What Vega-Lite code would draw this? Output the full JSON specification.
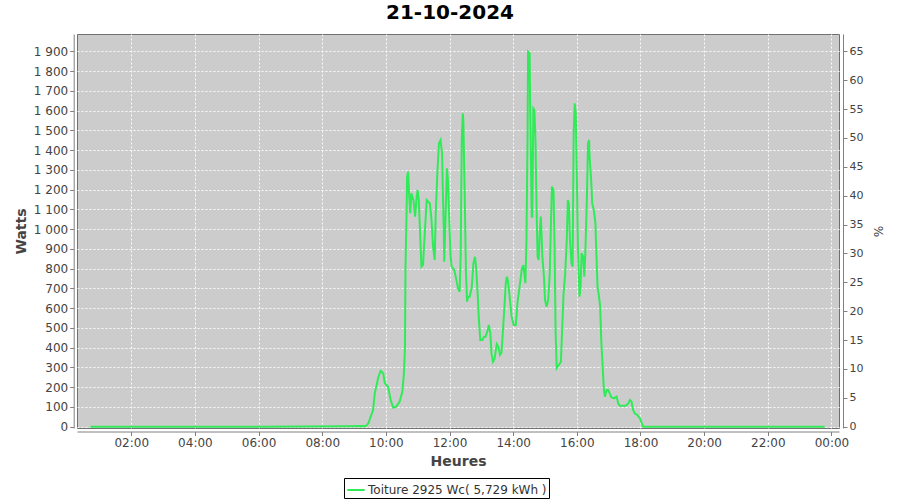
{
  "$schema": "https://vega.github.io/schema/vega-lite/v6.json",
  "width": 762,
  "height": 394,
  "autosize": {"type": "none"},
  "padding": {"left": 77, "top": 34, "right": 61, "bottom": 72},
  "background": "white",
  "title": {"text": "21-10-2024", "fontSize": 20, "font": "DejaVu Sans", "fontWeight": "bold", "color": "#000000", "anchor": "middle", "dx": -8, "offset": 11},
  "config": {
    "view": {"fill": "#CCCCCC", "stroke": "#707070", "strokeWidth": 1},
    "axis": {
      "labelFont": "DejaVu Sans", "labelFontSize": 12, "labelColor": "#444444",
      "titleFont": "DejaVu Sans", "titleFontSize": 14, "titleFontWeight": "bold", "titleColor": "#444444",
      "tickSize": 4, "tickColor": "#808080", "domainColor": "#808080", "labelPadding": 2,
      "gridColor": "#FFFFFF", "gridDash": [2, 2], "gridWidth": 1, "gridOpacity": 0.9
    }
  },
  "layer": [
    {
      "data": {"values": [
        {"t": "2024-10-21T00:43", "w": 0},
        {"t": "2024-10-21T03:00", "w": 0},
        {"t": "2024-10-21T06:00", "w": 0},
        {"t": "2024-10-21T08:50", "w": 2},
        {"t": "2024-10-21T09:15", "w": 3},
        {"t": "2024-10-21T09:22", "w": 2},
        {"t": "2024-10-21T09:27", "w": 17},
        {"t": "2024-10-21T09:36", "w": 85},
        {"t": "2024-10-21T09:39", "w": 169},
        {"t": "2024-10-21T09:46", "w": 253},
        {"t": "2024-10-21T09:50", "w": 282},
        {"t": "2024-10-21T09:55", "w": 270},
        {"t": "2024-10-21T09:58", "w": 220},
        {"t": "2024-10-21T10:04", "w": 202},
        {"t": "2024-10-21T10:09", "w": 135},
        {"t": "2024-10-21T10:14", "w": 96},
        {"t": "2024-10-21T10:20", "w": 103},
        {"t": "2024-10-21T10:26", "w": 127},
        {"t": "2024-10-21T10:31", "w": 177},
        {"t": "2024-10-21T10:34", "w": 270},
        {"t": "2024-10-21T10:36", "w": 405},
        {"t": "2024-10-21T10:37", "w": 810},
        {"t": "2024-10-21T10:39", "w": 1080},
        {"t": "2024-10-21T10:40", "w": 1265},
        {"t": "2024-10-21T10:42", "w": 1290},
        {"t": "2024-10-21T10:44", "w": 1164},
        {"t": "2024-10-21T10:46", "w": 1080},
        {"t": "2024-10-21T10:48", "w": 1181},
        {"t": "2024-10-21T10:52", "w": 1147},
        {"t": "2024-10-21T10:55", "w": 1063},
        {"t": "2024-10-21T10:58", "w": 1164},
        {"t": "2024-10-21T11:00", "w": 1198},
        {"t": "2024-10-21T11:02", "w": 1147},
        {"t": "2024-10-21T11:05", "w": 945},
        {"t": "2024-10-21T11:07", "w": 810},
        {"t": "2024-10-21T11:10", "w": 818},
        {"t": "2024-10-21T11:14", "w": 1012},
        {"t": "2024-10-21T11:17", "w": 1147},
        {"t": "2024-10-21T11:23", "w": 1130},
        {"t": "2024-10-21T11:26", "w": 1046},
        {"t": "2024-10-21T11:29", "w": 911},
        {"t": "2024-10-21T11:32", "w": 844},
        {"t": "2024-10-21T11:34", "w": 1080},
        {"t": "2024-10-21T11:37", "w": 1282},
        {"t": "2024-10-21T11:40", "w": 1434},
        {"t": "2024-10-21T11:43", "w": 1451},
        {"t": "2024-10-21T11:46", "w": 1384},
        {"t": "2024-10-21T11:47", "w": 1232},
        {"t": "2024-10-21T11:49", "w": 1012},
        {"t": "2024-10-21T11:50", "w": 835},
        {"t": "2024-10-21T11:53", "w": 1113},
        {"t": "2024-10-21T11:55", "w": 1308},
        {"t": "2024-10-21T11:57", "w": 1248},
        {"t": "2024-10-21T11:59", "w": 1080},
        {"t": "2024-10-21T12:02", "w": 860},
        {"t": "2024-10-21T12:04", "w": 810},
        {"t": "2024-10-21T12:09", "w": 793},
        {"t": "2024-10-21T12:13", "w": 742},
        {"t": "2024-10-21T12:16", "w": 700},
        {"t": "2024-10-21T12:19", "w": 683},
        {"t": "2024-10-21T12:21", "w": 860},
        {"t": "2024-10-21T12:23", "w": 1451},
        {"t": "2024-10-21T12:25", "w": 1586},
        {"t": "2024-10-21T12:26", "w": 1552},
        {"t": "2024-10-21T12:29", "w": 1113},
        {"t": "2024-10-21T12:31", "w": 776},
        {"t": "2024-10-21T12:33", "w": 633},
        {"t": "2024-10-21T12:35", "w": 658},
        {"t": "2024-10-21T12:38", "w": 658},
        {"t": "2024-10-21T12:42", "w": 708},
        {"t": "2024-10-21T12:45", "w": 827},
        {"t": "2024-10-21T12:48", "w": 860},
        {"t": "2024-10-21T12:50", "w": 810},
        {"t": "2024-10-21T12:53", "w": 675},
        {"t": "2024-10-21T12:55", "w": 557},
        {"t": "2024-10-21T12:58", "w": 439},
        {"t": "2024-10-21T13:02", "w": 439},
        {"t": "2024-10-21T13:05", "w": 455},
        {"t": "2024-10-21T13:08", "w": 455},
        {"t": "2024-10-21T13:12", "w": 489},
        {"t": "2024-10-21T13:14", "w": 515},
        {"t": "2024-10-21T13:17", "w": 473},
        {"t": "2024-10-21T13:19", "w": 371},
        {"t": "2024-10-21T13:22", "w": 329},
        {"t": "2024-10-21T13:25", "w": 345},
        {"t": "2024-10-21T13:29", "w": 418},
        {"t": "2024-10-21T13:32", "w": 405},
        {"t": "2024-10-21T13:35", "w": 363},
        {"t": "2024-10-21T13:38", "w": 375},
        {"t": "2024-10-21T13:41", "w": 500},
        {"t": "2024-10-21T13:44", "w": 630},
        {"t": "2024-10-21T13:46", "w": 726},
        {"t": "2024-10-21T13:48", "w": 759},
        {"t": "2024-10-21T13:50", "w": 742},
        {"t": "2024-10-21T13:54", "w": 641},
        {"t": "2024-10-21T13:57", "w": 557},
        {"t": "2024-10-21T14:01", "w": 515},
        {"t": "2024-10-21T14:05", "w": 515},
        {"t": "2024-10-21T14:08", "w": 624},
        {"t": "2024-10-21T14:12", "w": 708},
        {"t": "2024-10-21T14:16", "w": 793},
        {"t": "2024-10-21T14:19", "w": 818},
        {"t": "2024-10-21T14:21", "w": 776},
        {"t": "2024-10-21T14:23", "w": 726},
        {"t": "2024-10-21T14:25", "w": 945},
        {"t": "2024-10-21T14:27", "w": 1451},
        {"t": "2024-10-21T14:28", "w": 1898},
        {"t": "2024-10-21T14:31", "w": 1890},
        {"t": "2024-10-21T14:32", "w": 1620},
        {"t": "2024-10-21T14:35", "w": 1063},
        {"t": "2024-10-21T14:36", "w": 1063},
        {"t": "2024-10-21T14:38", "w": 1611},
        {"t": "2024-10-21T14:40", "w": 1603},
        {"t": "2024-10-21T14:42", "w": 1451},
        {"t": "2024-10-21T14:44", "w": 1113},
        {"t": "2024-10-21T14:46", "w": 860},
        {"t": "2024-10-21T14:48", "w": 844},
        {"t": "2024-10-21T14:50", "w": 979},
        {"t": "2024-10-21T14:52", "w": 1063},
        {"t": "2024-10-21T14:53", "w": 1012},
        {"t": "2024-10-21T14:55", "w": 860},
        {"t": "2024-10-21T14:58", "w": 759},
        {"t": "2024-10-21T15:00", "w": 641},
        {"t": "2024-10-21T15:03", "w": 607},
        {"t": "2024-10-21T15:06", "w": 641},
        {"t": "2024-10-21T15:09", "w": 776},
        {"t": "2024-10-21T15:11", "w": 1012},
        {"t": "2024-10-21T15:13", "w": 1215},
        {"t": "2024-10-21T15:16", "w": 1198},
        {"t": "2024-10-21T15:18", "w": 911},
        {"t": "2024-10-21T15:20", "w": 473},
        {"t": "2024-10-21T15:22", "w": 296},
        {"t": "2024-10-21T15:26", "w": 312},
        {"t": "2024-10-21T15:30", "w": 329},
        {"t": "2024-10-21T15:32", "w": 473},
        {"t": "2024-10-21T15:35", "w": 675},
        {"t": "2024-10-21T15:38", "w": 776},
        {"t": "2024-10-21T15:41", "w": 945},
        {"t": "2024-10-21T15:43", "w": 1147},
        {"t": "2024-10-21T15:45", "w": 1130},
        {"t": "2024-10-21T15:47", "w": 945},
        {"t": "2024-10-21T15:50", "w": 827},
        {"t": "2024-10-21T15:52", "w": 810},
        {"t": "2024-10-21T15:54", "w": 1485},
        {"t": "2024-10-21T15:56", "w": 1637},
        {"t": "2024-10-21T15:58", "w": 1586},
        {"t": "2024-10-21T16:00", "w": 1282},
        {"t": "2024-10-21T16:02", "w": 911},
        {"t": "2024-10-21T16:05", "w": 658},
        {"t": "2024-10-21T16:07", "w": 708},
        {"t": "2024-10-21T16:09", "w": 878},
        {"t": "2024-10-21T16:12", "w": 860},
        {"t": "2024-10-21T16:14", "w": 759},
        {"t": "2024-10-21T16:16", "w": 878},
        {"t": "2024-10-21T16:19", "w": 1164},
        {"t": "2024-10-21T16:21", "w": 1434},
        {"t": "2024-10-21T16:23", "w": 1451},
        {"t": "2024-10-21T16:24", "w": 1366},
        {"t": "2024-10-21T16:27", "w": 1248},
        {"t": "2024-10-21T16:29", "w": 1130},
        {"t": "2024-10-21T16:32", "w": 1097},
        {"t": "2024-10-21T16:35", "w": 1029},
        {"t": "2024-10-21T16:37", "w": 860},
        {"t": "2024-10-21T16:39", "w": 708},
        {"t": "2024-10-21T16:41", "w": 675},
        {"t": "2024-10-21T16:44", "w": 607},
        {"t": "2024-10-21T16:46", "w": 439},
        {"t": "2024-10-21T16:49", "w": 287},
        {"t": "2024-10-21T16:51", "w": 186},
        {"t": "2024-10-21T16:53", "w": 152},
        {"t": "2024-10-21T16:56", "w": 186},
        {"t": "2024-10-21T16:59", "w": 186},
        {"t": "2024-10-21T17:02", "w": 169},
        {"t": "2024-10-21T17:05", "w": 149},
        {"t": "2024-10-21T17:10", "w": 143},
        {"t": "2024-10-21T17:15", "w": 152},
        {"t": "2024-10-21T17:18", "w": 118},
        {"t": "2024-10-21T17:21", "w": 106},
        {"t": "2024-10-21T17:27", "w": 106},
        {"t": "2024-10-21T17:32", "w": 106},
        {"t": "2024-10-21T17:37", "w": 118},
        {"t": "2024-10-21T17:40", "w": 135},
        {"t": "2024-10-21T17:43", "w": 127},
        {"t": "2024-10-21T17:46", "w": 85},
        {"t": "2024-10-21T17:49", "w": 68},
        {"t": "2024-10-21T17:54", "w": 59},
        {"t": "2024-10-21T17:59", "w": 42},
        {"t": "2024-10-21T18:02", "w": 20},
        {"t": "2024-10-21T18:05", "w": 0},
        {"t": "2024-10-21T20:00", "w": 0},
        {"t": "2024-10-21T22:00", "w": 0},
        {"t": "2024-10-21T23:47", "w": 0}
      ]},
      "mark": {"type": "line", "strokeWidth": 2, "interpolate": "linear"},
      "encoding": {
        "x": {
          "field": "t", "type": "temporal",
          "scale": {"domain": [
            {"year": 2024, "month": 10, "date": 21, "hours": 0, "minutes": 17, "seconds": 42},
            {"year": 2024, "month": 10, "date": 22, "hours": 0, "minutes": 14, "seconds": 13}
          ]},
          "axis": {
            "title": "Heures", "format": "%H:%M", "offset": 3.5, "titlePadding": 6, "grid": true,
            "values": [
              {"year": 2024, "month": 10, "date": 21, "hours": 2},
              {"year": 2024, "month": 10, "date": 21, "hours": 4},
              {"year": 2024, "month": 10, "date": 21, "hours": 6},
              {"year": 2024, "month": 10, "date": 21, "hours": 8},
              {"year": 2024, "month": 10, "date": 21, "hours": 10},
              {"year": 2024, "month": 10, "date": 21, "hours": 12},
              {"year": 2024, "month": 10, "date": 21, "hours": 14},
              {"year": 2024, "month": 10, "date": 21, "hours": 16},
              {"year": 2024, "month": 10, "date": 21, "hours": 18},
              {"year": 2024, "month": 10, "date": 21, "hours": 20},
              {"year": 2024, "month": 10, "date": 21, "hours": 22},
              {"year": 2024, "month": 10, "date": 22, "hours": 0}
            ]
          }
        },
        "y": {
          "field": "w", "type": "quantitative",
          "scale": {"domain": [-6.6, 1987.6], "nice": false, "zero": false},
          "axis": {
            "title": "Watts", "offset": 3.3, "titlePadding": 5, "grid": true,
            "values": [0, 100, 200, 300, 400, 500, 600, 700, 800, 900, 1000, 1100, 1200, 1300, 1400, 1500, 1600, 1700, 1800, 1900],
            "labelExpr": "replace(format(datum.value, ','), ',', ' ')"
          }
        },
        "color": {
          "datum": "Toiture 2925 Wc( 5,729 kWh )", "type": "nominal",
          "scale": {"range": ["#30EB58"]},
          "legend": {
            "orient": "none", "legendX": 267, "legendY": 444, "title": null,
            "strokeColor": "#000000", "fillColor": "#FFFFFF", "padding": 2,
            "symbolType": "stroke", "symbolSize": 300, "symbolStrokeWidth": 2,
            "labelFont": "DejaVu Sans", "labelFontSize": 12, "labelColor": "#333333", "labelOffset": 2, "labelLimit": 400
          }
        }
      }
    },
    {
      "data": {"values": [{"p": 0}, {"p": 65}]},
      "mark": {"type": "point", "opacity": 0},
      "encoding": {
        "y": {
          "field": "p", "type": "quantitative",
          "scale": {"domain": [-0.226, 68.0], "nice": false, "zero": false},
          "axis": {
            "orient": "right", "title": "%", "offset": 4, "grid": false, "titleFontWeight": "normal", "titleFontSize": 12, "titlePadding": 8,
            "values": [0, 5, 10, 15, 20, 25, 30, 35, 40, 45, 50, 55, 60, 65], "labelFontSize": 11
          }
        }
      }
    }
  ],
  "resolve": {"scale": {"y": "independent"}, "axis": {"y": "independent"}}
}
